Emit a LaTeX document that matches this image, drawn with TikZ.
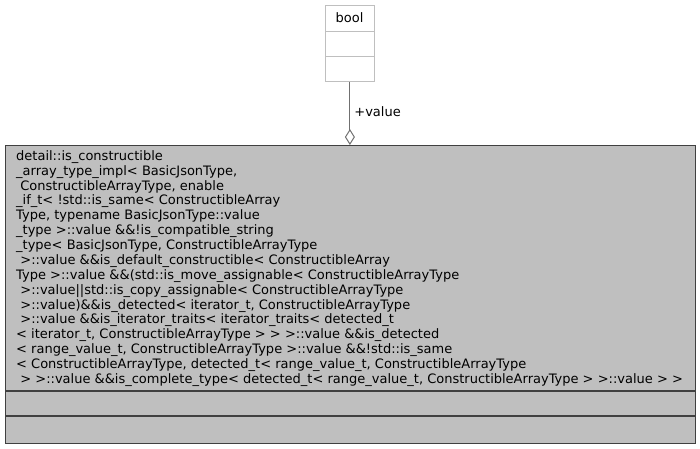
\documentclass[tikz,border=0pt]{standalone}
\usepackage{fontspec}
\setmainfont{DejaVu Sans}
\usetikzlibrary{arrows.meta}
\definecolor{boxgray}{RGB}{191,191,191}
\definecolor{edgegray}{RGB}{64,64,64}
\definecolor{linkgray}{RGB}{112,112,112}
\newcommand{\lead}{\hspace*{0.32em}}
\tikzset{
  classbox/.style={draw=edgegray, fill=boxgray, line width=1.2pt, inner sep=0pt, anchor=north west},
  membox/.style={draw=boxgray, fill=white, line width=0.8pt, inner sep=0pt, anchor=north west},
  classtext/.style={font=\fontsize{13}{14.87}\selectfont, inner sep=0pt},
}
\begin{document}
\begin{tikzpicture}[x=1pt,y=-1pt]
\useasboundingbox (0,0) rectangle (700,448);
% member type
\node[membox, minimum width=49pt, minimum height=76pt] (boolbox) at (325,5) {};
\draw[boxgray, line width=0.8pt] (325,31) -- (374,31);
\draw[boxgray, line width=0.8pt] (325,56) -- (374,56);
\node[classtext, anchor=base] (boolname) at (349.5,22) {bool};
% the class
\node[classbox, minimum width=690pt, minimum height=298pt] (cls) at (5,145) {};
\draw[edgegray, line width=1.2pt] (5,391) -- (695,391);
\draw[edgegray, line width=1.2pt] (5,416) -- (695,416);
\node[classtext, align=left, anchor=north west] (clsname) at (16,150.3) {%
detail::is\_constructible\\
\_array\_type\_impl< BasicJsonType,\\
\lead ConstructibleArrayType, enable\\
\_if\_t< !std::is\_same< ConstructibleArray\\
Type, typename BasicJsonType::value\\
\_type >::value \&\&!is\_compatible\_string\\
\_type< BasicJsonType, ConstructibleArrayType\\
\lead >::value \&\&is\_default\_constructible< ConstructibleArray\\
Type >::value \&\&(std::is\_move\_assignable< ConstructibleArrayType\\
\lead >::value||std::is\_copy\_assignable< ConstructibleArrayType\\
\lead >::value)\&\&is\_detected< iterator\_t, ConstructibleArrayType\\
\lead >::value \&\&is\_iterator\_traits< iterator\_traits< detected\_t\\
< iterator\_t, ConstructibleArrayType > > >::value \&\&is\_detected\\
< range\_value\_t, ConstructibleArrayType >::value \&\&!std::is\_same\\
< ConstructibleArrayType, detected\_t< range\_value\_t, ConstructibleArrayType\\
\lead > >::value \&\&is\_complete\_type< detected\_t< range\_value\_t, ConstructibleArrayType > >::value > >};
% association
\draw[linkgray, line width=1pt, -{Diamond[open, fill=white, length=16pt, width=10pt]}]
  (boolbox.south) -- (boolbox.south |- cls.north)
  node[pos=0.48, right=4pt, classtext, black] (rolename) {+value};
\end{tikzpicture}
\end{document}
